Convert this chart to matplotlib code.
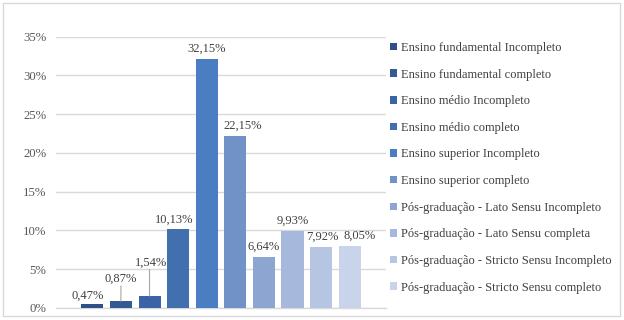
import matplotlib
matplotlib.use("Agg")
import matplotlib.pyplot as plt
from matplotlib.patches import Rectangle, Patch

categories = [
    "Ensino fundamental Incompleto",
    "Ensino fundamental completo",
    "Ensino médio Incompleto",
    "Ensino médio completo",
    "Ensino superior Incompleto",
    "Ensino superior completo",
    "Pós-graduação - Lato Sensu Incompleto",
    "Pós-graduação - Lato Sensu completa",
    "Pós-graduação - Stricto Sensu Incompleto",
    "Pós-graduação - Stricto Sensu completo",
]
values = [0.47, 0.87, 1.54, 10.13, 32.15, 22.15, 6.64, 9.93, 7.92, 8.05]
value_labels = ["0,47%", "0,87%", "1,54%", "10,13%", "32,15%", "22,15%",
                "6,64%", "9,93%", "7,92%", "8,05%"]
y_ticks = [0, 5, 10, 15, 20, 25, 30, 35]
y_tick_labels = ["0%", "5%", "10%", "15%", "20%", "25%", "30%", "35%"]

colors = ["#2F5086", "#335A93", "#3A64A5", "#4270AE", "#4A7DC1",
          "#7092C6", "#8DA5D1", "#A6B8DB", "#B6C5E2", "#C9D3EA"]

# label offsets in points (labels with leader lines are raised)
label_lift = [2, 12, 20, 3, 3, 3, 3, 3, 3, 3]
label_dx = [-3.6, 0, 1, -2.9, 0, 5, 0, 0, 1, 7]

plt.rcParams["font.family"] = ["Liberation Serif", "DejaVu Serif"]
FS = 9.0

fig = plt.figure(figsize=(6.24, 3.2), dpi=100)
fig.patches.append(Rectangle((3/624, 4/320), 617/624, 313/320, transform=fig.transFigure,
                             fill=False, edgecolor="#D9D9D9", linewidth=1.0))

ax = fig.add_axes([56/624, 12/320, 330/624, (308-36.7)/320])
x = list(range(len(values)))
bars = ax.bar(x, values, width=0.77, color=colors, zorder=3)

ax.set_xlim(-1.27, 9 + 1.27)
ax.set_ylim(0, 35)
ax.set_yticks(y_ticks)
ax.set_yticklabels(y_tick_labels, fontsize=9.2, color="#595959")
ax.tick_params(axis="y", length=0, pad=7)
ax.set_xticks([])
ax.grid(axis="y", color="#D9D9D9", linewidth=1.0, zorder=0)
for s in ["top", "right", "left"]:
    ax.spines[s].set_visible(False)
ax.spines["bottom"].set_color("#D9D9D9")
ax.spines["bottom"].set_linewidth(1.0)

for i, (b, v, lab) in enumerate(zip(bars, values, value_labels)):
    cx = b.get_x() + b.get_width() / 2
    ax.annotate(lab, (cx, v), xytext=(label_dx[i], label_lift[i]),
                textcoords="offset points", ha="center", va="bottom",
                fontsize=9.0, color="#404040", zorder=5)
    if label_lift[i] > 5:
        ax.annotate("", (cx, v), xytext=(0, label_lift[i] - 1),
                    textcoords="offset points",
                    arrowprops=dict(arrowstyle="-", color="#A6A6A6", lw=0.8,
                                    shrinkA=0, shrinkB=0), zorder=4)

handles = [Patch(facecolor=c, edgecolor="none") for c in colors]
fig.legend(handles, categories, loc="upper left", bbox_to_anchor=(390/624, 1 - 42/320),
           frameon=False, fontsize=FS, labelcolor="#404040",
           handlelength=0.55, handleheight=0.55, handletextpad=0.3,
           labelspacing=1.17, borderpad=0, borderaxespad=0)

fig.savefig("out.png", dpi=100)
